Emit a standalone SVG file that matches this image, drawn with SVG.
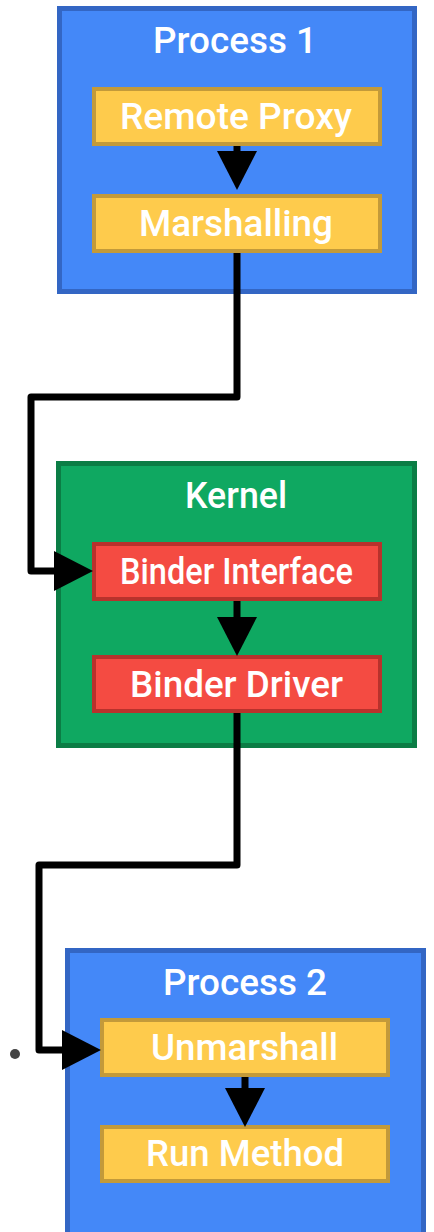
<svg xmlns="http://www.w3.org/2000/svg" width="434" height="1232" viewBox="0 0 434 1232">
<style>
.proc{fill:#4488F8;stroke:#3366C4;stroke-width:5}
.kern{fill:#0FA861;stroke:#0B7D45;stroke-width:5}
.yel{fill:#FECB4C;stroke:#C39A3A;stroke-width:4}
.red{fill:#F44B42;stroke:#B8322C;stroke-width:4}
.title{font-family:Roboto,"Liberation Sans",sans-serif;font-size:37px;font-weight:500;fill:#fff;text-anchor:middle}
.lbl{font-family:Roboto,"Liberation Sans",sans-serif;font-size:37px;font-weight:500;fill:#fff;text-anchor:middle}
.conn{fill:none;stroke:#000;stroke-width:7;stroke-linejoin:round}
</style>
<defs>
<marker id="ah" markerUnits="userSpaceOnUse" markerWidth="40" markerHeight="40" refX="0" refY="20" orient="auto" viewBox="0 0 40 40">
<path d="M0,0 L39,20 L0,40 Z" fill="#000"/>
</marker>
</defs>
<g id="process1">
<rect class="proc" x="59.5" y="8.5" width="355" height="283"/>
<text class="title" x="235" y="53" textLength="164" lengthAdjust="spacingAndGlyphs">Process 1</text>
</g>
<g id="remote-proxy">
<rect class="yel" x="94" y="89" width="286" height="55"/>
<text class="lbl" x="236" y="129" textLength="232" lengthAdjust="spacingAndGlyphs">Remote Proxy</text>
</g>
<g id="marshalling">
<rect class="yel" x="94" y="196" width="286" height="55"/>
<text class="lbl" x="236" y="236" textLength="194" lengthAdjust="spacingAndGlyphs">Marshalling</text>
</g>
<g id="kernel">
<rect class="kern" x="58.5" y="463.5" width="356" height="282"/>
<text class="title" x="236" y="508" textLength="102" lengthAdjust="spacingAndGlyphs">Kernel</text>
</g>
<g id="binder-interface">
<rect class="red" x="94" y="544" width="286" height="55"/>
<text class="lbl" x="236.5" y="584" font-weight="400" textLength="233" lengthAdjust="spacingAndGlyphs">Binder Interface</text>
</g>
<g id="binder-driver">
<rect class="red" x="94" y="657" width="286" height="54"/>
<text class="lbl" x="236.5" y="697" textLength="213" lengthAdjust="spacingAndGlyphs">Binder Driver</text>
</g>
<g id="process2">
<rect class="proc" x="67.5" y="950.5" width="356" height="290"/>
<text class="title" x="245" y="995" textLength="164" lengthAdjust="spacingAndGlyphs">Process 2</text>
</g>
<g id="unmarshall">
<rect class="yel" x="102" y="1020" width="286" height="55"/>
<text class="lbl" x="244.5" y="1060" textLength="187" lengthAdjust="spacingAndGlyphs">Unmarshall</text>
</g>
<g id="run-method">
<rect class="yel" x="102" y="1127" width="286" height="54"/>
<text class="lbl" x="245" y="1166" textLength="198" lengthAdjust="spacingAndGlyphs">Run Method</text>
</g>
<g id="connectors">
<path class="conn" d="M237,146 V151" marker-end="url(#ah)"/>
<path class="conn" d="M237,253 V397 H31 V571 H54" marker-end="url(#ah)"/>
<path class="conn" d="M237,601 V617" marker-end="url(#ah)"/>
<path class="conn" d="M237,713 V865 H39 V1050 H62" marker-end="url(#ah)"/>
<path class="conn" d="M245,1077 V1088" marker-end="url(#ah)"/>
</g>
<circle cx="15" cy="1054" r="5" fill="#444"/>
</svg>
